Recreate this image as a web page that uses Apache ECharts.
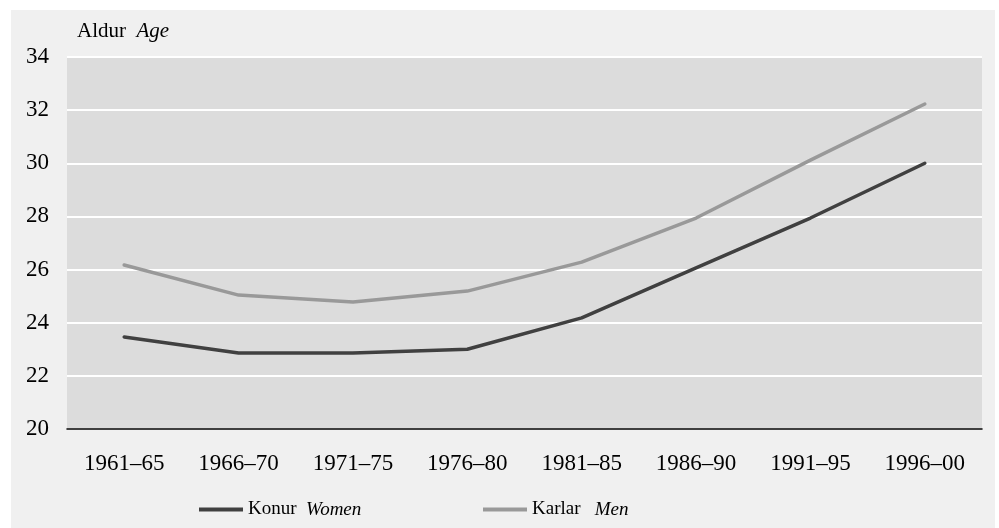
<!DOCTYPE html>
<html>
<head>
<meta charset="utf-8">
<script src="https://cdn.jsdelivr.net/npm/echarts@6/dist/echarts.min.js"></script>
<style>html,body{margin:0;padding:0;background:#fff;}#c{width:999px;height:528px;}</style>
</head>
<body>
<div id="c"></div>
<script>
const categories = ['1961–65','1966–70','1971–75','1976–80','1981–85','1986–90','1991–95','1996–00'];
const women = [23.46, 22.86, 22.86, 23.0, 24.18, 26.06, 27.94, 30.0];
const men = [26.17, 25.04, 24.78, 25.19, 26.28, 27.94, 30.12, 32.23];
const yTicks = {min: 20, max: 34, interval: 2};

const FONT = '"Liberation Serif", "Times New Roman", serif';
const chart = echarts.init(document.getElementById('c'), null, {renderer: 'canvas'});
const legendText = {
  fontFamily: FONT, fontSize: 19, color: '#000',
  rich: {
    a: {fontFamily: FONT, fontSize: 19, color: '#000'},
    i: {fontFamily: FONT, fontSize: 19, fontStyle: 'italic', color: '#000'}
  }
};
chart.setOption({
  backgroundColor: '#ffffff',
  animation: false,
  graphic: [{
    type: 'rect', z: -10, silent: true,
    shape: {x: 11, y: 10, width: 984, height: 518},
    style: {fill: '#f0f0f0'}
  }],
  title: {
    text: 'Aldur  {i|Age}',
    left: 72, top: 16,
    textStyle: {
      fontFamily: FONT, fontSize: 21, fontWeight: 'normal', color: '#000',
      rich: {i: {fontFamily: FONT, fontSize: 21, fontStyle: 'italic', color: '#000'}}
    }
  },
  grid: {
    left: 67, right: 17, top: 57, bottom: 99,
    show: true, backgroundColor: '#dcdcdc', borderWidth: 0
  },
  legend: [{
    data: ['Women'], left: 199, top: 500, padding: 0,
    icon: 'rect', itemWidth: 44, itemHeight: 4,
    textStyle: legendText,
    formatter: () => '{a|Konur}  {i|Women}'
  }, {
    data: ['Men'], left: 483, top: 500, padding: 0,
    icon: 'rect', itemWidth: 44, itemHeight: 4,
    textStyle: legendText,
    formatter: () => '{a|Karlar}   {i|Men}'
  }],
  xAxis: {
    type: 'category', data: categories, boundaryGap: true,
    axisLine: {lineStyle: {color: '#000', width: 1.5}},
    axisTick: {show: false},
    axisLabel: {fontFamily: FONT, fontSize: 23, color: '#000', margin: 23}
  },
  yAxis: {
    type: 'value', min: yTicks.min, max: yTicks.max, interval: yTicks.interval,
    axisLine: {show: false}, axisTick: {show: false},
    axisLabel: {fontFamily: FONT, fontSize: 23, color: '#000', margin: 18},
    splitLine: {lineStyle: {color: '#ffffff', width: 2}}
  },
  series: [{
    name: 'Women', type: 'line', data: women,
    showSymbol: false, symbol: 'none',
    lineStyle: {color: '#404040', width: 3.5, cap: 'round'},
    itemStyle: {color: '#404040'}
  }, {
    name: 'Men', type: 'line', data: men,
    showSymbol: false, symbol: 'none',
    lineStyle: {color: '#999999', width: 3.5, cap: 'round'},
    itemStyle: {color: '#999999'}
  }]
});
</script>
</body>
</html>
